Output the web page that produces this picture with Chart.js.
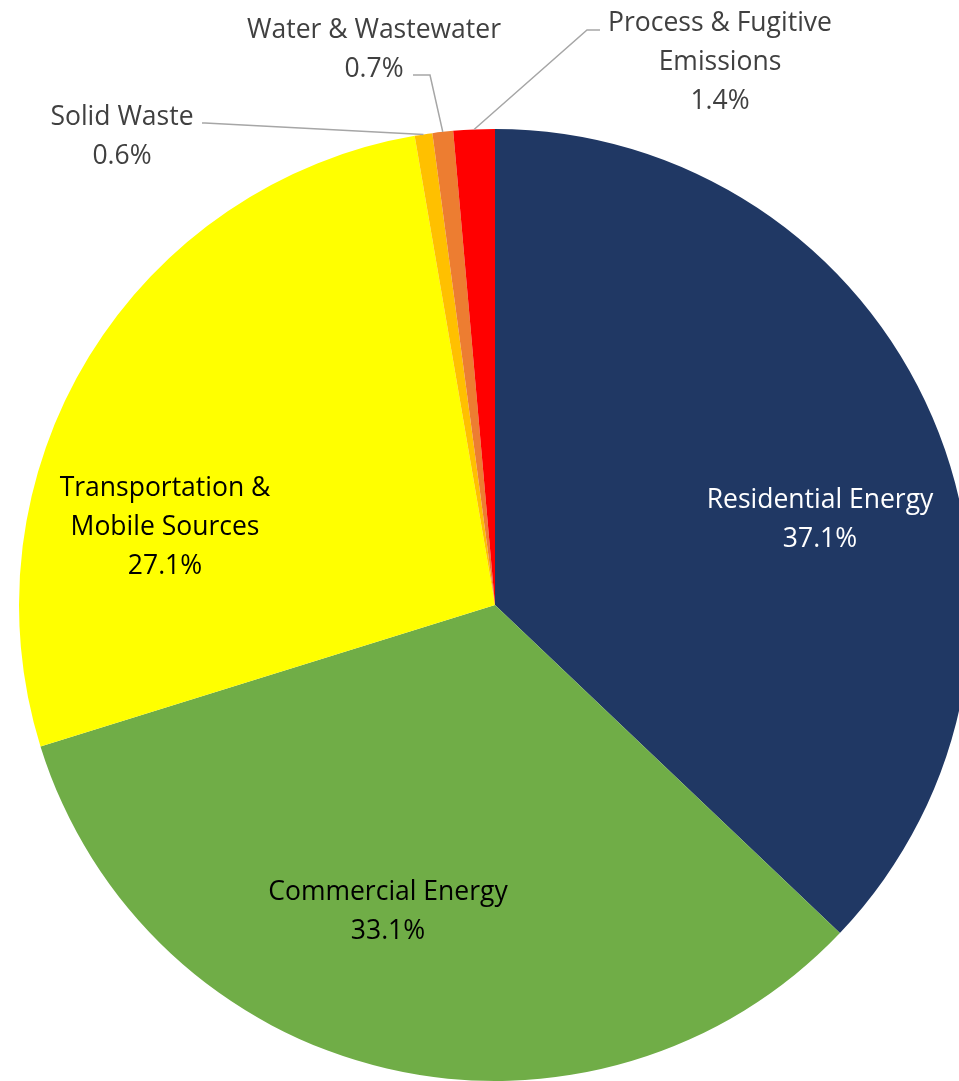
<!DOCTYPE html>
<html>
<head>
<meta charset="utf-8">
<script src="https://cdn.jsdelivr.net/npm/chart.js@4/dist/chart.umd.min.js"></script>
<style>
  html, body { margin: 0; padding: 0; background: #fff; overflow: hidden; }
  #wrap { position: absolute; left: 0; top: 0; width: 1000px; height: 1100px; }
</style>
</head>
<body>
<div id="wrap"><canvas id="pieChart" width="1000" height="1100"></canvas></div>
<script>
const categories = [
    'Residential Energy',
    'Commercial Energy',
    'Transportation & Mobile Sources',
    'Solid Waste',
    'Water & Wastewater',
    'Process & Fugitive Emissions'
]
const shares = [37.1, 33.1, 27.1, 0.6, 0.7, 1.4]
const sliceColors = ['#203864', '#70AD47', '#FFFF00', '#FFC000', '#ED7D31', '#FF0000']

// how each label is broken into lines
const labelLines = [
    ['Residential Energy'],
    ['Commercial Energy'],
    ['Transportation &', 'Mobile Sources'],
    ['Solid Waste'],
    ['Water & Wastewater'],
    ['Process & Fugitive', 'Emissions']
]

// label placement, in pixels relative to the pie centre
const labelLayout = [
    { dx: 325, dy: -85, color: '#ffffff' },
    { dx: -107, dy: 307, color: '#000000' },
    { dx: -330, dy: -78, color: '#000000' },
    { dx: -373, dy: -468, color: '#404040', elbow: [-290, -482], end: [-293, -482] },
    { dx: -121, dy: -555, color: '#404040', elbow: [-65, -530], end: [-82, -530] },
    { dx: 225, dy: -543, color: '#404040', elbow: [92, -575], end: [105, -575] }
]

const FONT = '26.5px "Open Sans"'
const LINE_H = 39

const labelPlugin = {
    id: 'sliceLabels',
    afterDatasetsDraw(chart) {
        const ctx = chart.ctx
        const meta = chart.getDatasetMeta(0)
        meta.data.forEach((arc, i) => {
            const { x, y, startAngle, endAngle, outerRadius } = arc.getProps(['x', 'y', 'startAngle', 'endAngle', 'outerRadius'], true)
            const lay = labelLayout[i]
            ctx.save()
            if (lay.elbow) {
                const mid = (startAngle + endAngle) / 2
                ctx.strokeStyle = '#A6A6A6'
                ctx.lineWidth = 1.5
                ctx.beginPath()
                ctx.moveTo(x + Math.cos(mid) * outerRadius, y + Math.sin(mid) * outerRadius)
                ctx.lineTo(x + lay.elbow[0], y + lay.elbow[1])
                ctx.lineTo(x + lay.end[0], y + lay.end[1])
                ctx.stroke()
            }
            const lines = labelLines[i].concat([shares[i].toFixed(1) + '%'])
            ctx.font = FONT
            ctx.fillStyle = lay.color
            ctx.textAlign = 'center'
            ctx.textBaseline = 'middle'
            const top = y + lay.dy - (lines.length - 1) * LINE_H / 2
            lines.forEach((t, k) => ctx.fillText(t, x + lay.dx, top + k * LINE_H))
            ctx.restore()
        })
    }
}

new Chart(document.getElementById('pieChart').getContext('2d'), {
    type: 'pie',
    data: {
        labels: categories,
        datasets: [{
            data: shares,
            backgroundColor: sliceColors,
            borderWidth: 0
        }]
    },
    options: {
        responsive: false,
        animation: false,
        layout: { padding: { left: 19, top: 129, right: 29, bottom: 19 } },
        plugins: {
            legend: { display: false },
            tooltip: { enabled: false }
        }
    },
    plugins: [labelPlugin]
})
</script>
</body>
</html>
